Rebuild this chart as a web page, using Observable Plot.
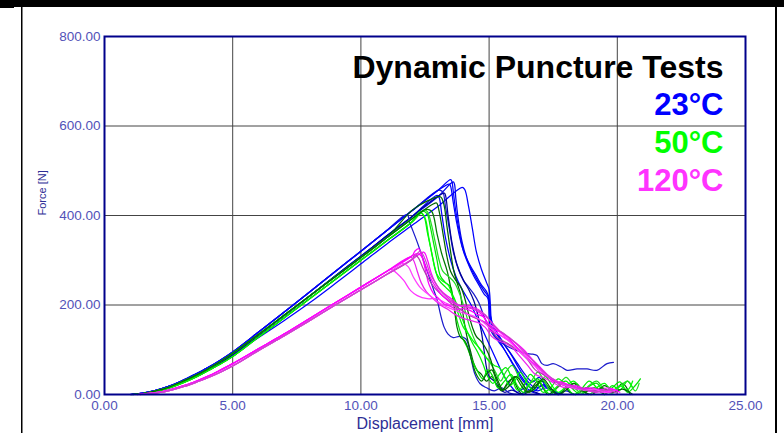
<!DOCTYPE html>
<html>
<head>
<meta charset="utf-8">
<script src="https://cdn.jsdelivr.net/npm/d3@7"></script>
<script src="https://cdn.jsdelivr.net/npm/@observablehq/plot@0.6"></script>
<style>
  html, body { margin: 0; padding: 0; background: #fff; }
  #chart svg { display: block; font-family: "Liberation Sans", Arial, sans-serif; }
</style>
</head>
<body>
<div id="chart"></div>
<script>
// ---- tick values ----
const xTicks = [0, 5, 10, 15, 20, 25];
const yTicks = [0, 200, 400, 600, 800];

// ---- texts ----
const titleText = "Dynamic Puncture Tests";
const legendLabels = ["23°C", "50°C", "120°C"];
const legendColors = ["#0000ff", "#00ff00", "#ff33ff"];
const xLabel = "Displacement [mm]";
const yLabel = "Force [N]";

// ---- rising parts (displacement mm, force N) ----
const blueRiseA = [[1.0,0],[1.5,3],[2,9],[2.5,18],[3,30],[3.5,44],[4,59],[4.5,76],[5,95],[6,139],[7,184],[8,229],[9,275],[10,320],[11,366],[12,411],[13,456]];
const blueRiseB = [[1.1,0],[1.6,3],[2.1,9],[2.6,18],[3.1,30],[3.6,43],[4.1,58],[4.6,74],[5.1,93],[6,132],[7,176],[8,220],[9,265],[10,309],[11,354],[12,398],[13,442]];
const blueRiseC = [[1.0,0],[1.5,3],[2,9],[2.5,18],[3,29],[3.5,42],[4,56],[4.5,72],[5,90],[6,127],[7,165],[8,205],[9,248],[10,292],[11,336],[12,378],[13,420]];
const greenRiseA = [[1.05,0],[1.5,2],[2,8],[2.5,16],[3,28],[3.5,41],[4,56],[4.5,73],[5,92],[6,134],[7,177],[8,220],[9,263],[10,306],[11,350],[12,393]];
const greenRiseB = [[1.15,0],[1.6,2],[2.1,8],[2.6,16],[3.1,27],[3.6,40],[4.1,55],[4.6,71],[5.1,89],[6,128],[7,171],[8,214],[9,257],[10,300],[11,343],[12,386]];
const magRiseA = [[1.3,0],[2,4],[2.5,10],[3,18],[3.5,28],[4,40],[4.5,54],[5,69],[6,102],[7,135],[8,170],[9,205],[10,240],[11,275],[12,310]];
const magRiseB = [[1.4,0],[2.1,4],[2.6,10],[3.1,18],[3.6,28],[4.1,39],[4.6,52],[5.1,67],[6,98],[7,131],[8,165],[9,200],[10,234],[11,268],[12,302]];

// ---- 23°C tails ----
const b1 = [[13.5,480],[13.55,476],[13.6,455],[13.7,410],[13.85,360],[14.0,320],[14.2,290],[14.4,265],[14.6,245],[14.8,225],[14.95,215],[15.0,180],[15.05,150],[15.2,135],[15.4,120],[15.6,100],[15.8,80],[16.0,60],[16.2,40],[16.4,25],[16.6,15],[16.9,8],[17.2,15],[17.5,5],[17.8,0]];
const b2 = [[13.95,463],[14.05,458],[14.2,420],[14.35,370],[14.5,320],[14.7,280],[14.9,250],[15.0,235],[15.05,200],[15.1,165],[15.3,140],[15.6,112],[15.9,85],[16.2,55],[16.5,30],[16.8,15],[17.1,20],[17.4,10],[17.7,3],[18.0,8],[18.3,0]];
const b3 = [[13.6,475],[13.65,470],[13.7,440],[13.8,390],[13.95,340],[14.15,300],[14.4,270],[14.6,250],[14.8,232],[14.95,220],[15.02,190],[15.1,160],[15.25,140],[15.5,118],[15.8,95],[16.1,70],[16.4,45],[16.7,28],[16.95,38],[17.2,20],[17.5,8],[17.9,0]];
const b4 = [[13.1,456],[13.2,452],[13.3,420],[13.45,370],[13.6,320],[13.8,280],[14.0,255],[14.2,240],[14.4,225],[14.6,205],[14.8,175],[15.0,150],[15.2,130],[15.5,115],[15.8,105],[16.1,98],[16.4,92],[16.7,90],[16.87,87],[17.06,69],[17.26,65],[17.5,69],[17.8,62],[18.04,54],[18.43,57],[18.82,57],[19.2,54],[19.6,69],[19.85,72]];
const b5 = [[12.97,445],[13.05,440],[13.15,405],[13.3,350],[13.5,300],[13.7,265],[13.9,240],[14.1,220],[14.3,200],[14.5,175],[14.7,150],[14.9,125],[15.1,100],[15.3,75],[15.5,50],[15.7,30],[15.9,15],[16.1,5],[16.4,15],[16.7,5],[17.0,0]];
const b6 = [[12.6,426],[13.25,450],[13.3,445],[13.4,400],[13.55,340],[13.75,290],[14.0,255],[14.2,235],[14.4,210],[14.55,180],[14.7,140],[14.8,100],[14.9,60],[15.0,40],[15.2,30],[15.4,15],[15.6,5],[15.9,10],[16.2,2],[16.6,8],[17.0,0]];
const b7 = [[11.8,402],[11.9,385],[12.2,340],[12.5,290],[12.8,240],[12.98,210],[13.1,180],[13.25,150],[13.4,135],[13.6,127],[13.85,130],[14.1,124],[14.2,110],[14.3,80],[14.45,45],[14.65,24],[14.9,15],[15.2,8],[15.5,15],[15.8,3],[16.2,0]];
const b8 = [[13.45,470],[13.5,465],[13.6,430],[13.75,380],[13.95,330],[14.2,295],[14.5,265],[14.7,245],[14.9,230],[15.0,215],[15.05,175],[15.15,140],[15.35,120],[15.6,100],[15.9,72],[16.2,45],[16.5,22],[16.8,10],[17.1,22],[17.4,12],[17.7,0]];

// ---- 50°C tails ----
const g1 = [[12.0,412],[12.5,430],[13.1,442],[13.23,426],[13.36,374],[13.49,322],[13.62,277],[13.75,250],[13.88,225],[14.0,173],[14.14,128],[14.27,98],[14.4,70],[14.53,54],[14.7,45],[14.9,30],[15.1,40],[15.3,20],[15.5,8],[15.7,25],[15.9,35],[16.1,15],[16.3,0],[16.6,10],[16.9,30],[17.1,15],[17.3,0],[17.6,12],[17.9,25],[18.1,8],[18.4,0],[18.8,15],[19.1,5],[19.5,20],[19.9,8],[20.2,25],[20.5,0]];
const g2 = [[12.4,410],[12.58,404],[12.71,374],[12.84,337],[12.97,300],[13.1,265],[13.3,250],[13.5,240],[13.62,203],[13.75,165],[13.95,128],[14.14,106],[14.34,76],[14.53,54],[14.75,35],[14.95,55],[15.15,40],[15.35,15],[15.6,30],[15.85,45],[16.1,20],[16.35,5],[16.6,25],[16.9,35],[17.15,12],[17.4,0],[17.7,20],[18.0,30],[18.3,10],[18.6,0],[18.9,18],[19.2,25],[19.5,5],[19.8,15],[20.1,28],[20.4,5],[20.7,20],[20.9,35]];
const g3 = [[12.3,408],[12.45,400],[12.6,360],[12.75,320],[12.9,280],[13.05,255],[13.3,240],[13.55,225],[13.75,200],[13.95,170],[14.15,140],[14.35,115],[14.55,95],[14.75,70],[14.95,40],[15.15,25],[15.4,45],[15.65,60],[15.9,35],[16.1,10],[16.35,20],[16.6,45],[16.85,30],[17.1,5],[17.4,15],[17.7,35],[18.0,20],[18.3,0],[18.6,12],[18.9,30],[19.2,15],[19.5,0],[19.8,20],[20.1,10],[20.4,30],[20.6,15]];
const g4 = [[12.5,413],[12.75,410],[12.97,359],[13.15,315],[13.36,277],[13.5,240],[13.62,203],[13.75,150],[13.88,128],[14.05,120],[14.2,100],[14.35,70],[14.5,45],[14.7,30],[14.9,45],[15.1,55],[15.3,30],[15.5,10],[15.75,25],[16.0,40],[16.25,20],[16.5,5],[16.8,20],[17.1,30],[17.4,10],[17.7,0],[18.0,15],[18.4,25],[18.7,5],[19.1,15],[19.5,0]];
const g5 = [[12.5,412],[12.6,408],[12.75,380],[12.9,340],[13.05,300],[13.2,275],[13.45,262],[13.65,250],[13.85,225],[14.05,190],[14.25,150],[14.45,120],[14.65,100],[14.85,85],[15.05,70],[15.25,50],[15.45,30],[15.65,50],[15.9,65],[16.15,40],[16.4,15],[16.65,30],[16.9,50],[17.15,30],[17.4,8],[17.7,20],[18.0,38],[18.3,18],[18.6,3],[18.9,20],[19.2,30],[19.5,10],[19.8,3],[20.1,18],[20.4,30],[20.7,8],[20.85,25]];
const g6 = [[12.35,405],[12.5,395],[12.65,350],[12.8,305],[12.95,270],[13.15,255],[13.4,245],[13.6,215],[13.8,180],[14.0,150],[14.2,135],[14.4,118],[14.6,105],[14.8,90],[15.0,75],[15.2,65],[15.4,60],[15.6,40],[15.8,20],[16.0,30],[16.2,50],[16.45,30],[16.7,10],[16.95,25],[17.2,40],[17.45,20],[17.7,5],[18.0,18],[18.3,30],[18.6,10],[18.9,0],[19.2,15],[19.5,25],[19.8,8],[20.1,20],[20.4,10],[20.6,30]];
const g7 = [[12.8,425],[12.95,428],[13.05,410],[13.2,360],[13.35,310],[13.5,275],[13.7,255],[13.9,240],[14.05,215],[14.2,180],[14.35,150],[14.5,130],[14.7,118],[14.9,100],[15.05,80],[15.2,50],[15.35,30],[15.55,10],[15.8,20],[16.05,40],[16.3,25],[16.55,5],[16.8,15],[17.1,35],[17.4,15],[17.7,0],[18.0,10],[18.3,25],[18.6,10],[19.0,0],[19.4,15],[19.8,5],[20.2,12],[20.6,0]];

// ---- 120°C tails ----
const m1 = [[12.1,320],[12.25,326],[12.39,307],[12.52,277],[12.65,247],[12.84,225],[13.04,214],[13.23,203],[13.45,198],[13.75,190],[14.0,192],[14.25,188],[14.5,180],[14.79,173],[15.05,143],[15.3,136],[15.57,128],[15.83,118],[16.22,98],[16.6,83],[16.99,61],[17.38,39],[17.77,24],[18.15,16],[18.54,13],[19.07,9],[19.5,5],[19.9,10]];
const m2 = [[11.16,280],[11.42,270],[11.67,255],[11.94,232],[12.2,221],[12.59,214],[12.97,214],[13.36,203],[13.7,195],[14.0,185],[14.3,175],[14.6,168],[14.9,160],[15.2,150],[15.5,135],[15.8,120],[16.1,105],[16.4,90],[16.7,70],[17.0,50],[17.3,40],[17.6,30],[17.9,25],[18.3,18],[18.7,12],[19.1,10],[19.5,5],[19.8,12]];
const m3 = [[11.93,307],[12.05,300],[12.2,275],[12.35,250],[12.55,230],[12.8,215],[13.1,200],[13.4,190],[13.7,178],[14.0,170],[14.3,165],[14.6,160],[14.85,150],[15.1,130],[15.35,120],[15.6,115],[15.9,105],[16.2,85],[16.5,65],[16.8,45],[17.1,38],[17.4,30],[17.7,20],[18.0,15],[18.4,20],[18.8,10],[19.2,5],[19.6,15],[20.0,8]];
const m4 = [[12.45,318],[12.6,300],[12.75,270],[12.95,245],[13.2,228],[13.5,215],[13.8,200],[14.1,195],[14.4,190],[14.7,180],[14.95,160],[15.2,145],[15.45,140],[15.7,130],[16.0,110],[16.3,90],[16.6,75],[16.9,60],[17.2,45],[17.5,30],[17.8,28],[18.1,22],[18.5,15],[18.9,8],[19.3,12],[19.7,5],[20.0,10]];
const m5 = [[12.1,312],[12.25,305],[12.4,285],[12.6,262],[12.85,240],[13.1,225],[13.35,212],[13.6,200],[13.9,190],[14.2,178],[14.5,170],[14.8,162],[15.05,150],[15.3,128],[15.6,118],[15.9,108],[16.2,95],[16.5,78],[16.8,55],[17.1,45],[17.4,35],[17.7,25],[18.0,20],[18.4,12],[18.8,15],[19.2,8],[19.6,3]];
const m6 = [[12.2,315],[12.35,310],[12.5,290],[12.7,262],[12.95,238],[13.2,220],[13.5,208],[13.8,198],[14.1,200],[14.4,195],[14.7,185],[14.95,170],[15.2,155],[15.45,140],[15.75,128],[16.05,115],[16.35,100],[16.65,80],[16.95,58],[17.25,42],[17.55,30],[17.85,22],[18.2,18],[18.6,12],[19.0,15],[19.4,8],[19.8,12],[20.1,5]];
const m7 = [[11.65,293],[11.85,285],[12.05,262],[12.3,240],[12.6,225],[12.9,212],[13.2,200],[13.5,192],[13.8,185],[14.1,180],[14.4,175],[14.7,165],[15.0,150],[15.25,140],[15.5,130],[15.8,118],[16.1,100],[16.4,85],[16.7,68],[17.0,55],[17.3,40],[17.6,32],[17.9,22],[18.3,15],[18.7,10],[19.1,12],[19.5,5],[19.9,8]];
const m8 = [[12.3,320],[12.4,315],[12.55,295],[12.7,270],[12.9,250],[13.1,232],[13.35,218],[13.65,205],[13.95,198],[14.25,195],[14.55,188],[14.85,178],[15.1,160],[15.35,145],[15.6,135],[15.9,122],[16.2,105],[16.5,88],[16.8,70],[17.1,52],[17.4,38],[17.7,28],[18.0,22],[18.4,15],[18.8,10],[19.2,6],[19.6,10],[20.0,3]];

// ---- series table: [rise, tail, colour] ----
const series = [
  [blueRiseA, b1, "#0000ff"], [blueRiseC, b2, "#0000ff"], [blueRiseB, b3, "#0000ee"],
  [blueRiseA, b4, "#1a1acc"], [blueRiseB, b5, "#0000ff"], [blueRiseB, b6, "#000099"],
  [blueRiseA, b7, "#1a1acc"], [blueRiseA, b8, "#0000ff"],
  [greenRiseA, g1, "#006400"], [greenRiseA, g2, "#00e600"], [greenRiseB, g3, "#00ee00"],
  [greenRiseB, g4, "#007a00"], [greenRiseA, g5, "#22dd22"], [greenRiseB, g6, "#00ff00"],
  [greenRiseA, g7, "#006400"],
  [magRiseA, m1, "#ff00ff"], [magRiseA, m2, "#ff33ff"], [magRiseA, m3, "#ee22ee"],
  [magRiseB, m4, "#ff00ff"], [magRiseB, m5, "#b040b0"], [magRiseA, m6, "#ff00ff"],
  [magRiseB, m7, "#ff44ff"], [magRiseB, m8, "#cc44cc"]
];
const curves = series.map(([rise, tail, color]) => ({
  pts: rise.filter(p => p[0] < tail[0][0]).concat(tail),
  color
}));

const FONT = '"Liberation Sans", Arial, sans-serif';
const tickColor = "#5252b8";
const labelColor = "#2e2e96";

const plot = Plot.plot({
  width: 784,
  height: 433,
  marginLeft: 104,
  marginRight: 39,
  marginTop: 36,
  marginBottom: 39,
  style: { fontFamily: FONT, background: "#fff" },
  x: { domain: [0, 25] },
  y: { domain: [0, 800] },
  marks: [
    Plot.gridX(xTicks.slice(1, -1), { stroke: "#444", strokeOpacity: 1, strokeWidth: 1 }),
    Plot.gridY(yTicks.slice(1, -1), { stroke: "#444", strokeOpacity: 1, strokeWidth: 1 }),
    ...curves.map(c => Plot.line(c.pts, {
      x: d => d[0], y: d => d[1], stroke: c.color, strokeWidth: 1.25, curve: "catmull-rom"
    })),
    Plot.axisX(xTicks, { tickSize: 0, tickPadding: 6, tickFormat: d => d.toFixed(2), fontSize: 13.5, color: tickColor, label: null }),
    Plot.axisY(yTicks, { tickSize: 0, tickPadding: 4, tickFormat: d => d.toFixed(2), fontSize: 13.5, color: tickColor, label: null }),
    Plot.frame({ stroke: "#00008b", strokeWidth: 2 }),
    Plot.text([xLabel], { text: d => d, frameAnchor: "bottom", lineAnchor: "bottom", dy: 34, fontSize: 16, fill: labelColor }),
    Plot.text([yLabel], { text: d => d, frameAnchor: "left", dx: -62, rotate: -90, fontSize: 11, fill: labelColor }),
    Plot.text([titleText], { text: d => d, frameAnchor: "top-right", textAnchor: "end", lineAnchor: "bottom", dx: -22, dy: 41, fontSize: 32, fontWeight: "bold", fill: "#000" }),
    ...legendLabels.map((t, i) => Plot.text([t], {
      text: d => d, frameAnchor: "top-right", textAnchor: "end", lineAnchor: "bottom",
      dx: -22, dy: 78 + i * 38, fontSize: 31, fontWeight: "bold", fill: legendColors[i]
    }))
  ]
});

// window frame decorations
const svg = d3.select(plot);
svg.append("rect").attr("x", 0).attr("y", 0).attr("width", 784).attr("height", 7).attr("fill", "#000");
svg.append("rect").attr("x", 0).attr("y", 0).attr("width", 14).attr("height", 8).attr("fill", "#000");
svg.append("rect").attr("x", 21).attr("y", 7).attr("width", 1.5).attr("height", 426).attr("fill", "#000");
svg.append("rect").attr("x", 775).attr("y", 0).attr("width", 2).attr("height", 433).attr("fill", "#000");

document.getElementById("chart").appendChild(plot);
</script>
</body>
</html>
